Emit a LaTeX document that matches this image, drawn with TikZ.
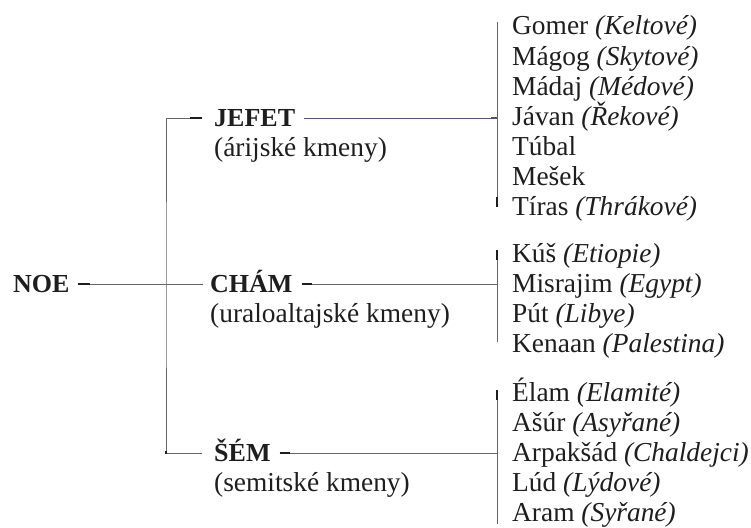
\documentclass[tikz,border=0pt]{standalone}
\usepackage{fontspec}
\setmainfont{Liberation Serif}
\usetikzlibrary{positioning}
\definecolor{ink}{HTML}{1E1E1E}
\definecolor{rule}{HTML}{666666}
\definecolor{jefetrule}{HTML}{55527A}

\begin{document}
\begin{tikzpicture}[x=1pt, y=-1pt, every node/.style={inner sep=0pt, text=ink},
    head/.style={font=\fontsize{26}{30}\selectfont\bfseries, text height=17.5pt, text depth=0pt, anchor=west},
    tribe/.style={font=\fontsize{27.4}{30}\selectfont, anchor=base west},
    son/.style={font=\fontsize{27.4}{30}\selectfont, anchor=base west},
    link/.style={draw=rule, line width=0.8pt},
    blot/.style={draw=ink, line width=1.8pt}]
    \useasboundingbox (0,0) rectangle (751,527);

    % Noe and his sons
    \node[head] (noe) at (13,284) {NOE};
    \node[head] (jefet) at (214,118) {JEFET};
    \node[tribe] (jefetsub) at ([yshift=-30pt]jefet.base west) {(árijské kmeny)};
    \node[head] (cham) at (210,284) {CHÁM};
    \node[tribe] (chamsub) at ([yshift=-30pt]cham.base west) {(uraloaltajské kmeny)};
    \node[head] (sem) at (214,453) {ŠÉM};
    \node[tribe] (semsub) at ([yshift=-30pt]sem.base west) {(semitské kmeny)};
    \coordinate (fork) at (166,284);

    % sons of Jefet
    \node[son] (gomer) at (512,35) {Gomer \textit{(Keltové)}};
    \node[son] (magog) at ([yshift=-30pt]gomer.base west) {Mágog \textit{(Skytové)}};
    \node[son] (madaj) at ([yshift=-30pt]magog.base west) {Mádaj \textit{(Médové)}};
    \node[son] (javan) at ([yshift=-30pt]madaj.base west) {Jávan \textit{(Řekové)}};
    \node[son] (tubal) at ([yshift=-30pt]javan.base west) {Túbal};
    \node[son] (mesek) at ([yshift=-30pt]tubal.base west) {Mešek};
    \node[son] (tiras) at ([yshift=-30pt]mesek.base west) {Tíras \textit{(Thrákové)}};

    % sons of Chám
    \node[son] (kus) at ([yshift=-47pt]tiras.base west) {Kúš \textit{(Etiopie)}};
    \node[son] (misrajim) at ([yshift=-30pt]kus.base west) {Misrajim \textit{(Egypt)}};
    \node[son] (put) at ([yshift=-30pt]misrajim.base west) {Pút \textit{(Libye)}};
    \node[son] (kenaan) at ([yshift=-30pt]put.base west) {Kenaan \textit{(Palestina)}};

    % sons of Šém
    \node[son] (elam) at ([yshift=-49pt]kenaan.base west) {Élam \textit{(Elamité)}};
    \node[son] (asur) at ([yshift=-30pt]elam.base west) {Ašúr \textit{(Asyřané)}};
    \node[son] (arpaksad) at ([yshift=-30pt]asur.base west) {Arpakšád \textit{(Chaldejci)}};
    \node[son] (lud) at ([yshift=-30pt]arpaksad.base west) {Lúd \textit{(Lýdové)}};
    \node[son] (aram) at ([yshift=-30pt]lud.base west) {Aram \textit{(Syřané)}};

    \draw[link] ([xshift=8pt]noe.east) -- ([xshift=-7pt]cham.west);
    \draw[link] ([xshift=-12pt]jefet.west) -| (fork) |- ([xshift=-12pt]sem.west);
    \draw[blot] ([xshift=8pt]noe.east) -- ++(12,0);
    \draw[blot] ([xshift=-12pt]jefet.west) -- ++(-12,0);
    \draw[blot] (fork |- sem.west) ++(0,-2) -- ++(0,3);

    \draw[link, draw=jefetrule] ([xshift=9pt]jefet.east) -- ([xshift=-15pt]jefet.east -| javan.west);
    \draw[link] ([xshift=9pt]cham.east) -- ([xshift=-15pt]cham.east -| misrajim.west);
    \draw[link] ([xshift=9pt]sem.east) -- ([xshift=-15pt]sem.east -| arpaksad.west);
    \draw[blot] ([xshift=9pt]cham.east) -- ++(10,0);
    \draw[blot] ([xshift=9pt]sem.east) -- ++(10,0);
    \draw[blot, draw=jefetrule] ([xshift=-15pt]jefet.east -| javan.west) -- ++(-6,0);

    \draw[link] ([xshift=-15pt, yshift=13pt]gomer.base west) -- ([xshift=-15pt, yshift=8pt]tiras.base west);
    \draw[link] ([xshift=-15pt, yshift=12pt]kus.base west) -- ([xshift=-15pt, yshift=10pt]kenaan.base west);
    \draw[link] ([xshift=-15pt, yshift=11pt]elam.base west) -- ([xshift=-15pt, yshift=-3pt]aram.base west);
    \draw[blot] ([xshift=-15pt, yshift=8pt]tiras.base west) -- ++(0,-10);
    \draw[blot] ([xshift=-15pt, yshift=12pt]kus.base west) -- ++(0,10);
    \draw[blot] ([xshift=-15pt, yshift=11pt]elam.base west) -- ++(0,10);
\end{tikzpicture}
\end{document}
